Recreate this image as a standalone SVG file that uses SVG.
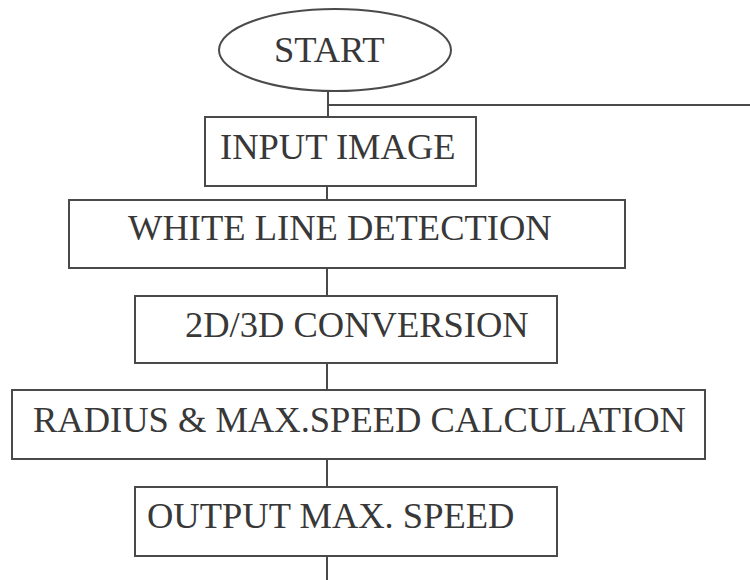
<svg xmlns="http://www.w3.org/2000/svg" width="750" height="580" viewBox="0 0 750 580">
<style>
.shape{fill:#fff;stroke:#4a4a4a;stroke-width:2}
.lbl{font-family:"Liberation Serif","Times New Roman",serif;font-size:36.5px;fill:#383838}
.conn{stroke:#4a4a4a;stroke-width:2;fill:none}
</style>
<rect width="750" height="580" fill="#fff"/>
<g id="connectors">
<line class="conn" x1="328" y1="91" x2="328" y2="118"/>
<line class="conn" x1="328" y1="105" x2="750" y2="105"/>
<line class="conn" x1="327" y1="187" x2="327" y2="201"/>
<line class="conn" x1="327" y1="268" x2="327" y2="296"/>
<line class="conn" x1="327" y1="363" x2="327" y2="390"/>
<line class="conn" x1="327" y1="459" x2="327" y2="487"/>
<line class="conn" x1="327" y1="556" x2="327" y2="580"/>
</g>
<g id="start">
<ellipse class="shape" cx="335" cy="50" rx="116" ry="41"/>
<text class="lbl" x="274" y="62">START</text>
</g>
<g id="input-image">
<rect class="shape" x="205" y="117" width="271" height="69"/>
<text class="lbl" x="220" y="159">INPUT IMAGE</text>
</g>
<g id="white-line-detection">
<rect class="shape" x="69" y="200" width="556" height="68"/>
<text class="lbl" x="128" y="240">WHITE LINE DETECTION</text>
</g>
<g id="conversion">
<rect class="shape" x="135" y="296" width="422" height="67"/>
<text class="lbl" x="185" y="337">2D/3D CONVERSION</text>
</g>
<g id="radius-calc">
<rect class="shape" x="12" y="390" width="693" height="69"/>
<text class="lbl" x="33" y="432">RADIUS &amp; MAX.SPEED CALCULATION</text>
</g>
<g id="output-speed">
<rect class="shape" x="135" y="487" width="422" height="69"/>
<text class="lbl" x="147" y="528">OUTPUT MAX. SPEED</text>
</g>
</svg>
